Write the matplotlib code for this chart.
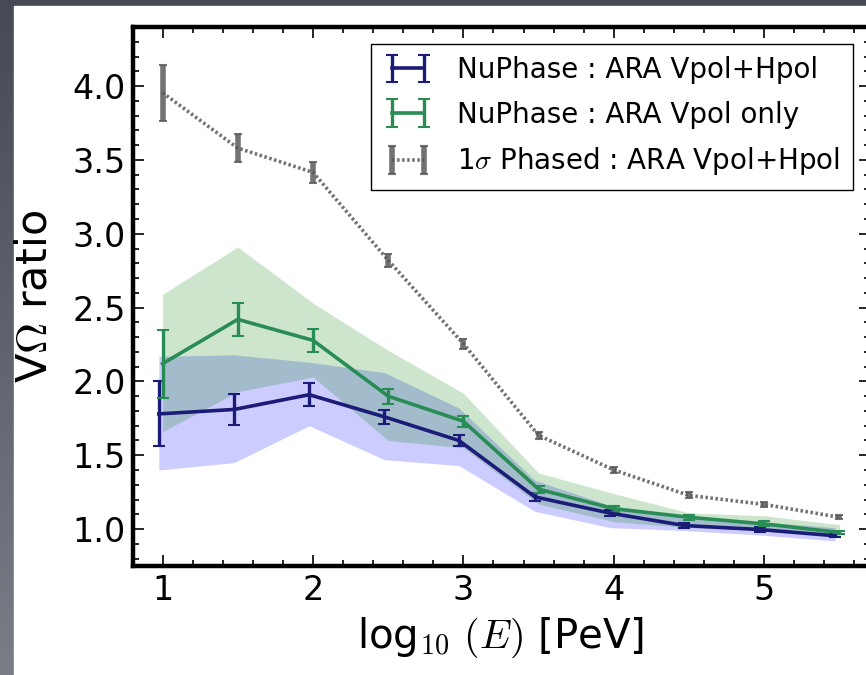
import numpy as np
import matplotlib
matplotlib.use("Agg")
import matplotlib.pyplot as plt
from matplotlib.patches import Rectangle
from matplotlib.ticker import MultipleLocator

plt.rcParams['font.family'] = ['DejaVu Sans']
plt.rcParams['mathtext.fontset'] = 'cm'
plt.rcParams['mathtext.rm'] = 'DejaVu Sans'

# --- Data (log10 E in PeV) ---
energy = [1.0, 1.5, 2.0, 2.5, 3.0, 3.5, 4.0, 4.5, 5.0, 5.5]
energy_vh = [0.975, 1.475, 1.975, 2.475, 2.97, 3.475, 3.975, 4.47, 4.97, 5.47]

# NuPhase Vpol+Hpol
vh_val = [1.78, 1.81, 1.91, 1.76, 1.60, 1.218, 1.108, 1.024, 0.997, 0.955]
vh_err = [0.22, 0.105, 0.077, 0.047, 0.04, 0.025, 0.022, 0.017, 0.017, 0.012]
vh_lo = [1.40, 1.45, 1.70, 1.47, 1.43, 1.12, 1.01, 0.99, 0.96, 0.92]
vh_hi = [2.17, 2.18, 2.13, 2.06, 1.82, 1.33, 1.16, 1.09, 1.05, 1.01]

# NuPhase Vpol only
v_val = [2.12, 2.42, 2.278, 1.90, 1.73, 1.27, 1.138, 1.08, 1.035, 0.977]
v_err = [0.23, 0.11, 0.079, 0.05, 0.036, 0.023, 0.02, 0.017, 0.017, 0.012]
v_lo = [1.66, 1.93, 2.03, 1.60, 1.55, 1.17, 1.05, 1.01, 0.99, 0.95]
v_hi = [2.59, 2.91, 2.53, 2.21, 1.92, 1.38, 1.24, 1.11, 1.09, 1.03]

# 1 sigma phased Vpol+Hpol
ph_val = [3.955, 3.58, 3.416, 2.82, 2.255, 1.635, 1.40, 1.228, 1.167, 1.08]
ph_err = [0.19, 0.094, 0.073, 0.045, 0.035, 0.025, 0.02, 0.02, 0.018, 0.015]

navy = '#1b1b78'
green = '#2a8c55'

fig = plt.figure(figsize=(8.66, 6.75), dpi=100)

# --- slide-like background: dark gradient border + white page ---
bg = fig.add_axes([0, 0, 1, 1], zorder=-10)
grad = np.linspace(0, 1, 256).reshape(-1, 1)
top_c = np.array([70, 73, 86]) / 255.0
bot_c = np.array([122, 125, 134]) / 255.0
img = top_c[None, None, :] * (1 - grad[:, :, None]) + bot_c[None, None, :] * grad[:, :, None]
bg.imshow(img, aspect='auto', extent=[0, 1, 0, 1])
bg.add_patch(Rectangle((14 / 866, 0), 1, 669 / 675, color='white', transform=bg.transAxes))
bg.set_xlim(0, 1)
bg.set_ylim(0, 1)
bg.axis('off')

# right spine sits just past the picture edge, as in the original crop
ax = fig.add_axes([132.5 / 866, 109 / 675, 737 / 866, 539 / 675])

# --- bands ---
ax.fill_between(energy_vh, vh_lo, vh_hi, color='blue', alpha=0.2, lw=0)
ax.fill_between(energy, v_lo, v_hi, color='green', alpha=0.2, lw=0)

# --- curves ---
ax.errorbar(energy_vh, vh_val, yerr=vh_err, color=navy, lw=2.6, elinewidth=2.4,
            capsize=4, capthick=1.5, label='NuPhase : ARA Vpol+Hpol')
ax.errorbar(energy, v_val, yerr=v_err, color=green, lw=2.6, elinewidth=2.4,
            capsize=4, capthick=1.5, label='NuPhase : ARA Vpol only')
ax.errorbar(energy, ph_val, yerr=ph_err, color='#5a5a5a', ls=(0, (0.7, 0.7)), lw=2.6,
            elinewidth=4, capsize=3, capthick=1.5, alpha=0.85,
            label=r'1$\sigma$ Phased : ARA Vpol+Hpol')

ax.set_xlim(0.8, 5.7)
ax.set_ylim(0.75, 4.4)
ax.xaxis.set_major_locator(MultipleLocator(1))
ax.xaxis.set_minor_locator(MultipleLocator(0.2))
ax.yaxis.set_major_locator(MultipleLocator(0.5))
ax.yaxis.set_minor_locator(MultipleLocator(0.1))
ax.tick_params(which='both', direction='in', top=True, right=True, width=1.2)
ax.tick_params(which='major', length=8, labelsize=24)
ax.tick_params(axis='x', which='major', pad=6)
ax.tick_params(axis='y', which='major', pad=5)
ax.tick_params(which='minor', length=4.5)
for s in ax.spines.values():
    s.set_linewidth(3.2)

ax.set_xlabel(r'log$_{10}$ $(E)$ [PeV]', fontsize=29, labelpad=6)
ax.set_ylabel(r'V$\Omega$ ratio', fontsize=31, labelpad=12)

leg = ax.legend(loc='upper right', numpoints=2, fontsize=20, fancybox=False,
                framealpha=1, edgecolor='black', handlelength=1.75,
                handletextpad=0.9, labelspacing=0.6, borderaxespad=0.6,
                borderpad=0.45)
leg.get_frame().set_linewidth(1.0)

fig.savefig('out.png', dpi=100)
